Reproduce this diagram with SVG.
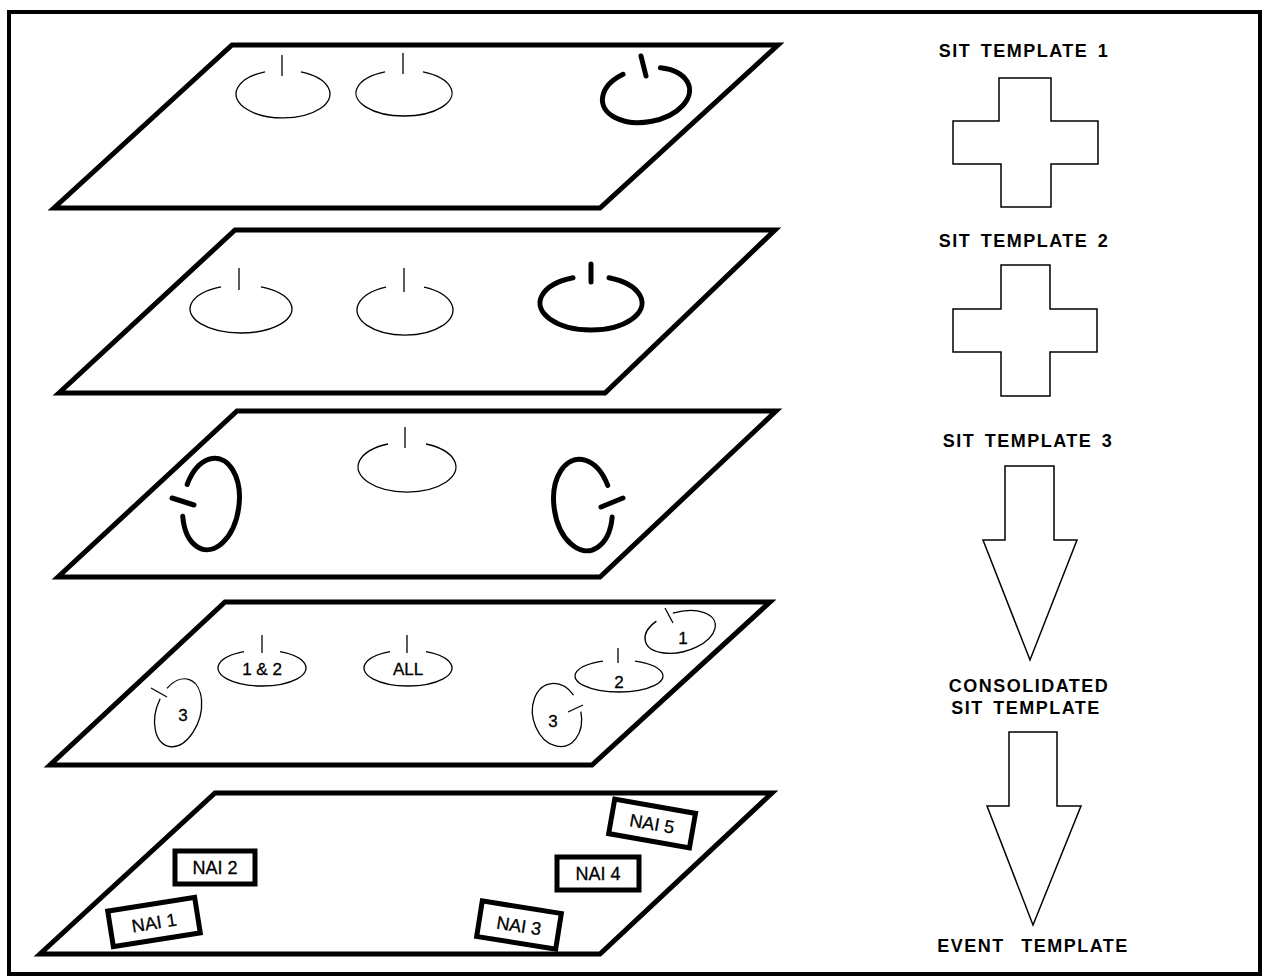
<svg xmlns="http://www.w3.org/2000/svg" width="1266" height="978" viewBox="0 0 1266 978">
<style>
.plate{fill:#fff;stroke:#000;stroke-width:5;stroke-linejoin:miter}
.thin{fill:none;stroke:#000;stroke-width:1.3}
.thick{fill:none;stroke:#000;stroke-width:5;stroke-linecap:round}
.lbl{font-family:"Liberation Sans",Arial,sans-serif;font-size:17px;fill:#000;stroke:#000;stroke-width:0.3;text-anchor:middle}
.nlbl{font-family:"Liberation Sans",Arial,sans-serif;font-size:18px;fill:#000;stroke:#000;stroke-width:0.3;text-anchor:middle}
.nai{fill:#fff;stroke:#000;stroke-width:5}
.title{font-family:"Liberation Sans",Arial,sans-serif;font-weight:bold;font-size:18px;letter-spacing:1.5px;word-spacing:3px;fill:#000;text-anchor:middle}
.shape{fill:#fff;stroke:#000;stroke-width:1.5;stroke-linejoin:miter}
</style>
<rect x="0" y="0" width="1266" height="978" fill="#fff"/>
<rect x="9" y="12" width="1251" height="962" fill="none" stroke="#000" stroke-width="4"/>

<g id="layer1">
<polygon class="plate" points="232,45 778,45 600,208 54,208"/>
<path class="thin" d="M301,71.8 A47,24 0 1 1 265,71.8"/>
<path class="thin" d="M282,55 L282,76"/>
<path class="thin" d="M423,71.9 A48,23 0 1 1 385,71.9"/>
<path class="thin" d="M403,53 L403,74"/>
<path class="thick" transform="rotate(-10 646 95)" d="M665,70.6 A44,27 0 1 1 627,70.6"/>
<path class="thick" d="M641,56 L646,76"/>
</g>

<g id="layer2">
<polygon class="plate" points="235,230 775,230 605,393 59,393"/>
<path class="thin" d="M261,286.9 A51,24 0 1 1 221,286.9"/>
<path class="thin" d="M239,268 L239,290"/>
<path class="thin" d="M424,287.1 A48,25 0 1 1 386,287.1"/>
<path class="thin" d="M404,268 L404,292"/>
<path class="thick" d="M609,277.7 A51,27 0 1 1 573,277.7"/>
<path class="thick" d="M591,264 L591,282"/>
</g>

<g id="layer3">
<polygon class="plate" points="237,411 776,411 600,577 58,577"/>
<path class="thin" d="M426,444 A49,25 0 1 1 388,444"/>
<path class="thin" d="M405,427 L405,448"/>
<path class="thick" transform="rotate(8 211 504)" d="M184.7,488 A28,46 0 1 1 184.7,520"/>
<path class="thick" d="M172,498 L194,505"/>
<path class="thick" transform="rotate(-8 583 505)" d="M610.2,521 A29,46 0 1 1 610.2,489"/>
<path class="thick" d="M601,507 L623,498"/>
</g>

<g id="layer4">
<polygon class="plate" points="225,602 770,602 592,765 50,765"/>
<path class="thin" d="M280,651.6 A44,18 0 1 1 244,651.6"/>
<path class="thin" d="M262,635 L262,653"/>
<text class="lbl" x="262" y="675">1 &amp; 2</text>
<path class="thin" d="M426,651.6 A44,18 0 1 1 390,651.6"/>
<path class="thin" d="M407,635 L407,653"/>
<text class="lbl" x="408" y="675">ALL</text>
<path class="thin" transform="rotate(18 178 713)" d="M159.9,693 A22,35 0 1 1 156.6,705"/>
<path class="thin" d="M151,688 L167,697"/>
<text class="lbl" x="183" y="721">3</text>
<path class="thin" d="M635,661.1 A44,16 0 1 1 603,661.1"/>
<path class="thin" d="M618,648 L618,663"/>
<text class="lbl" x="619" y="688">2</text>
<path class="thin" transform="rotate(-15 680 632)" d="M678,612 A36,20 0 1 1 660,615.4"/>
<path class="thin" d="M665,608 L673,623"/>
<text class="lbl" x="683" y="644">1</text>
<path class="thin" transform="rotate(-15 557 715)" d="M580.9,718 A24,32 0 1 1 578.2,700"/>
<path class="thin" d="M568,712 L583,705"/>
<text class="lbl" x="553" y="727">3</text>
</g>

<g id="layer5">
<polygon class="plate" points="215,793 772,793 600,954 40,954"/>
<g id="nai1" transform="rotate(-9 154 922)">
<rect class="nai" x="110" y="904" width="88" height="36"/>
<text class="nlbl" x="154" y="929">NAI 1</text>
</g>
<g id="nai2">
<rect class="nai" x="175" y="851" width="80" height="33"/>
<text class="nlbl" x="215" y="874">NAI 2</text>
</g>
<g id="nai3" transform="rotate(9 519 925)">
<rect class="nai" x="479" y="907" width="80" height="36"/>
<text class="nlbl" x="519" y="932">NAI 3</text>
</g>
<g id="nai4">
<rect class="nai" x="557" y="857" width="82" height="33"/>
<text class="nlbl" x="598" y="880">NAI 4</text>
</g>
<g id="nai5" transform="rotate(10 652 824)">
<rect class="nai" x="611" y="806" width="82" height="35"/>
<text class="nlbl" x="652" y="830">NAI 5</text>
</g>
</g>

<g id="sit1">
<text class="title" x="1024" y="57">SIT TEMPLATE 1</text>
<polygon class="shape" points="999,78 1051,78 1051,121 1098,121 1098,164 1051,164 1051,207 1001,207 1001,164 953,164 953,121 999,121"/>
</g>
<g id="sit2">
<text class="title" x="1024" y="247">SIT TEMPLATE 2</text>
<polygon class="shape" points="1001,265 1050,265 1050,309 1097,309 1097,352 1050,352 1050,396 1001,396 1001,352 953,352 953,309 1001,309"/>
</g>
<g id="sit3">
<text class="title" x="1028" y="447">SIT TEMPLATE 3</text>
</g>
<g id="connectors">
<polygon class="shape" points="1005,466 1054,466 1054,540 1077,540 1030,660 983,540 1005,540"/>
<polygon class="shape" points="1009,732 1057,732 1057,806 1081,806 1033,925 987,806 1009,806"/>
</g>
<g id="consolidated">
<text class="title" x="1029" y="692">CONSOLIDATED</text>
<text class="title" x="1026" y="714">SIT TEMPLATE</text>
</g>
<g id="event">
<text class="title" x="1033" y="952" style="word-spacing:10px">EVENT TEMPLATE</text>
</g>
</svg>
